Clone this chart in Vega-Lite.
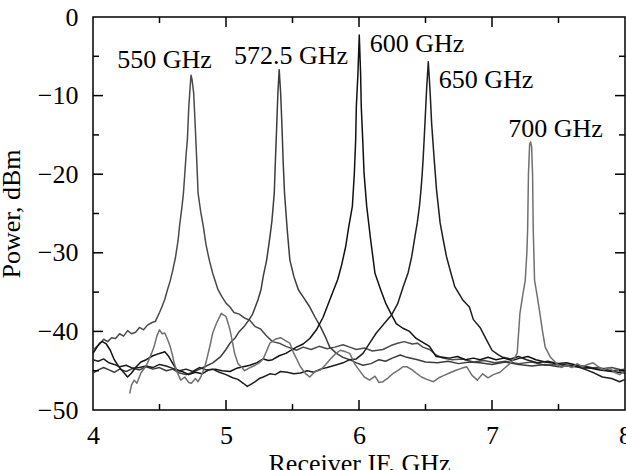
{
  "$schema": "https://vega.github.io/schema/vega-lite/v6.json",
  "width": 532,
  "height": 393,
  "autosize": {"type": "none"},
  "padding": {"left": 93, "top": 17, "right": 1, "bottom": 60},
  "background": "white",
  "config": {
    "font": "Liberation Serif",
    "view": {"stroke": "black", "strokeWidth": 1.5}
  },
  "datasets": {
    "spectra": [
      {"s":"550","x":4.00,"y":-42.4},{"s":"550","x":4.03,"y":-41.9},{"s":"550","x":4.05,"y":-41.6},{"s":"550","x":4.08,"y":-41.0},{"s":"550","x":4.11,"y":-41.3},{"s":"550","x":4.14,"y":-40.8},{"s":"550","x":4.17,"y":-40.9},{"s":"550","x":4.20,"y":-40.3},{"s":"550","x":4.23,"y":-40.6},{"s":"550","x":4.26,"y":-39.9},{"s":"550","x":4.29,"y":-40.3},{"s":"550","x":4.32,"y":-40.1},{"s":"550","x":4.35,"y":-39.5},{"s":"550","x":4.38,"y":-39.8},{"s":"550","x":4.41,"y":-39.2},{"s":"550","x":4.44,"y":-38.9},{"s":"550","x":4.47,"y":-38.7},{"s":"550","x":4.50,"y":-37.6},{"s":"550","x":4.52,"y":-36.8},{"s":"550","x":4.54,"y":-35.9},{"s":"550","x":4.56,"y":-34.7},{"s":"550","x":4.58,"y":-33.6},{"s":"550","x":4.60,"y":-32.2},{"s":"550","x":4.62,"y":-30.6},{"s":"550","x":4.64,"y":-28.4},{"s":"550","x":4.65,"y":-26.7},{"s":"550","x":4.67,"y":-24.0},{"s":"550","x":4.68,"y":-22.4},{"s":"550","x":4.69,"y":-20.0},{"s":"550","x":4.70,"y":-17.5},{"s":"550","x":4.71,"y":-15.5},{"s":"550","x":4.72,"y":-11.5},{"s":"550","x":4.73,"y":-9.0},{"s":"550","x":4.737,"y":-7.4},{"s":"550","x":4.745,"y":-8.0},{"s":"550","x":4.757,"y":-9.7},{"s":"550","x":4.769,"y":-14.0},{"s":"550","x":4.78,"y":-18.2},{"s":"550","x":4.79,"y":-22.4},{"s":"550","x":4.81,"y":-24.8},{"s":"550","x":4.83,"y":-26.7},{"s":"550","x":4.85,"y":-29.0},{"s":"550","x":4.874,"y":-30.9},{"s":"550","x":4.90,"y":-32.6},{"s":"550","x":4.94,"y":-34.7},{"s":"550","x":4.97,"y":-35.6},{"s":"550","x":5.00,"y":-36.4},{"s":"550","x":5.03,"y":-36.9},{"s":"550","x":5.06,"y":-37.6},{"s":"550","x":5.10,"y":-37.8},{"s":"550","x":5.14,"y":-38.3},{"s":"550","x":5.18,"y":-38.6},{"s":"550","x":5.22,"y":-39.4},{"s":"550","x":5.26,"y":-39.7},{"s":"550","x":5.30,"y":-40.5},{"s":"550","x":5.35,"y":-41.3},{"s":"550","x":5.40,"y":-41.5},{"s":"550","x":5.45,"y":-41.9},{"s":"550","x":5.53,"y":-42.4},{"s":"550","x":5.58,"y":-42.0},{"s":"550","x":5.64,"y":-42.3},{"s":"550","x":5.70,"y":-41.9},{"s":"550","x":5.76,"y":-42.2},{"s":"550","x":5.82,"y":-42.0},{"s":"550","x":5.88,"y":-41.7},{"s":"550","x":5.93,"y":-42.0},{"s":"550","x":5.98,"y":-42.3},{"s":"550","x":6.04,"y":-42.1},{"s":"550","x":6.10,"y":-42.5},{"s":"550","x":6.18,"y":-42.3},{"s":"550","x":6.24,"y":-41.8},{"s":"550","x":6.29,"y":-41.5},{"s":"550","x":6.34,"y":-41.3},{"s":"550","x":6.40,"y":-41.6},{"s":"550","x":6.44,"y":-41.5},{"s":"550","x":6.48,"y":-42.0},{"s":"550","x":6.53,"y":-42.3},{"s":"550","x":6.58,"y":-43.0},{"s":"550","x":6.63,"y":-43.4},{"s":"550","x":6.70,"y":-43.6},{"s":"550","x":6.78,"y":-43.5},{"s":"550","x":6.86,"y":-43.9},{"s":"550","x":6.94,"y":-43.7},{"s":"550","x":7.02,"y":-44.0},{"s":"550","x":7.10,"y":-43.8},{"s":"550","x":7.20,"y":-44.1},{"s":"550","x":7.30,"y":-43.9},{"s":"550","x":7.40,"y":-44.3},{"s":"550","x":7.50,"y":-44.2},{"s":"550","x":7.60,"y":-44.5},{"s":"550","x":7.70,"y":-44.4},{"s":"550","x":7.80,"y":-44.8},{"s":"550","x":7.90,"y":-44.6},{"s":"550","x":8.00,"y":-45.0},

      {"s":"572.5","x":4.00,"y":-45.3},{"s":"572.5","x":4.04,"y":-44.9},{"s":"572.5","x":4.08,"y":-44.6},{"s":"572.5","x":4.12,"y":-44.9},{"s":"572.5","x":4.16,"y":-45.2},{"s":"572.5","x":4.20,"y":-44.8},{"s":"572.5","x":4.25,"y":-45.1},{"s":"572.5","x":4.30,"y":-44.7},{"s":"572.5","x":4.35,"y":-44.9},{"s":"572.5","x":4.40,"y":-44.5},{"s":"572.5","x":4.45,"y":-44.8},{"s":"572.5","x":4.50,"y":-44.6},{"s":"572.5","x":4.55,"y":-45.0},{"s":"572.5","x":4.60,"y":-44.8},{"s":"572.5","x":4.65,"y":-45.3},{"s":"572.5","x":4.70,"y":-45.5},{"s":"572.5","x":4.75,"y":-45.2},{"s":"572.5","x":4.79,"y":-44.9},{"s":"572.5","x":4.84,"y":-44.5},{"s":"572.5","x":4.90,"y":-44.0},{"s":"572.5","x":4.96,"y":-43.2},{"s":"572.5","x":5.00,"y":-42.3},{"s":"572.5","x":5.03,"y":-41.5},{"s":"572.5","x":5.07,"y":-40.8},{"s":"572.5","x":5.10,"y":-40.0},{"s":"572.5","x":5.14,"y":-39.3},{"s":"572.5","x":5.17,"y":-38.6},{"s":"572.5","x":5.20,"y":-37.8},{"s":"572.5","x":5.24,"y":-36.0},{"s":"572.5","x":5.263,"y":-34.7},{"s":"572.5","x":5.28,"y":-33.0},{"s":"572.5","x":5.306,"y":-30.9},{"s":"572.5","x":5.33,"y":-28.0},{"s":"572.5","x":5.345,"y":-26.0},{"s":"572.5","x":5.363,"y":-22.4},{"s":"572.5","x":5.372,"y":-18.0},{"s":"572.5","x":5.381,"y":-14.0},{"s":"572.5","x":5.39,"y":-9.7},{"s":"572.5","x":5.40,"y":-6.7},{"s":"572.5","x":5.411,"y":-9.7},{"s":"572.5","x":5.421,"y":-14.0},{"s":"572.5","x":5.43,"y":-18.5},{"s":"572.5","x":5.44,"y":-22.4},{"s":"572.5","x":5.46,"y":-27.0},{"s":"572.5","x":5.48,"y":-30.9},{"s":"572.5","x":5.51,"y":-33.0},{"s":"572.5","x":5.544,"y":-34.7},{"s":"572.5","x":5.58,"y":-35.6},{"s":"572.5","x":5.63,"y":-36.9},{"s":"572.5","x":5.67,"y":-38.2},{"s":"572.5","x":5.71,"y":-39.4},{"s":"572.5","x":5.75,"y":-40.8},{"s":"572.5","x":5.78,"y":-42.0},{"s":"572.5","x":5.83,"y":-42.8},{"s":"572.5","x":5.88,"y":-43.3},{"s":"572.5","x":5.93,"y":-43.6},{"s":"572.5","x":5.98,"y":-44.0},{"s":"572.5","x":6.03,"y":-44.3},{"s":"572.5","x":6.09,"y":-44.1},{"s":"572.5","x":6.15,"y":-43.6},{"s":"572.5","x":6.20,"y":-43.8},{"s":"572.5","x":6.25,"y":-43.4},{"s":"572.5","x":6.31,"y":-43.0},{"s":"572.5","x":6.36,"y":-43.3},{"s":"572.5","x":6.44,"y":-43.6},{"s":"572.5","x":6.50,"y":-43.9},{"s":"572.5","x":6.59,"y":-44.0},{"s":"572.5","x":6.67,"y":-43.8},{"s":"572.5","x":6.75,"y":-44.1},{"s":"572.5","x":6.83,"y":-43.9},{"s":"572.5","x":6.91,"y":-44.0},{"s":"572.5","x":7.00,"y":-44.2},{"s":"572.5","x":7.10,"y":-43.9},{"s":"572.5","x":7.20,"y":-44.2},{"s":"572.5","x":7.30,"y":-44.4},{"s":"572.5","x":7.40,"y":-44.2},{"s":"572.5","x":7.50,"y":-44.5},{"s":"572.5","x":7.60,"y":-44.3},{"s":"572.5","x":7.70,"y":-44.7},{"s":"572.5","x":7.80,"y":-44.6},{"s":"572.5","x":7.90,"y":-45.0},{"s":"572.5","x":8.00,"y":-44.8},

      {"s":"600","x":4.00,"y":-42.8},{"s":"600","x":4.03,"y":-42.0},{"s":"600","x":4.05,"y":-41.5},{"s":"600","x":4.07,"y":-41.3},{"s":"600","x":4.10,"y":-41.6},{"s":"600","x":4.13,"y":-42.4},{"s":"600","x":4.16,"y":-43.6},{"s":"600","x":4.19,"y":-44.4},{"s":"600","x":4.22,"y":-45.0},{"s":"600","x":4.26,"y":-45.8},{"s":"600","x":4.29,"y":-45.3},{"s":"600","x":4.32,"y":-44.6},{"s":"600","x":4.36,"y":-43.9},{"s":"600","x":4.40,"y":-43.6},{"s":"600","x":4.45,"y":-43.1},{"s":"600","x":4.50,"y":-42.8},{"s":"600","x":4.54,"y":-42.6},{"s":"600","x":4.57,"y":-43.2},{"s":"600","x":4.60,"y":-44.1},{"s":"600","x":4.63,"y":-44.9},{"s":"600","x":4.67,"y":-45.1},{"s":"600","x":4.72,"y":-45.5},{"s":"600","x":4.77,"y":-45.2},{"s":"600","x":4.82,"y":-45.4},{"s":"600","x":4.87,"y":-44.9},{"s":"600","x":4.92,"y":-44.8},{"s":"600","x":4.97,"y":-45.0},{"s":"600","x":5.03,"y":-45.1},{"s":"600","x":5.08,"y":-44.7},{"s":"600","x":5.13,"y":-44.5},{"s":"600","x":5.18,"y":-44.3},{"s":"600","x":5.23,"y":-44.0},{"s":"600","x":5.28,"y":-43.5},{"s":"600","x":5.32,"y":-43.7},{"s":"600","x":5.35,"y":-43.6},{"s":"600","x":5.40,"y":-43.1},{"s":"600","x":5.45,"y":-42.8},{"s":"600","x":5.50,"y":-42.3},{"s":"600","x":5.53,"y":-42.0},{"s":"600","x":5.58,"y":-41.6},{"s":"600","x":5.63,"y":-40.9},{"s":"600","x":5.68,"y":-39.8},{"s":"600","x":5.73,"y":-38.2},{"s":"600","x":5.78,"y":-36.0},{"s":"600","x":5.81,"y":-34.7},{"s":"600","x":5.84,"y":-33.4},{"s":"600","x":5.87,"y":-31.5},{"s":"600","x":5.90,"y":-29.2},{"s":"600","x":5.92,"y":-27.0},{"s":"600","x":5.95,"y":-24.1},{"s":"600","x":5.965,"y":-19.9},{"s":"600","x":5.975,"y":-15.6},{"s":"600","x":5.98,"y":-11.4},{"s":"600","x":5.992,"y":-7.2},{"s":"600","x":6.002,"y":-2.3},{"s":"600","x":6.012,"y":-7.2},{"s":"600","x":6.017,"y":-11.4},{"s":"600","x":6.028,"y":-15.6},{"s":"600","x":6.038,"y":-19.9},{"s":"600","x":6.058,"y":-24.1},{"s":"600","x":6.088,"y":-28.4},{"s":"600","x":6.12,"y":-32.6},{"s":"600","x":6.163,"y":-34.7},{"s":"600","x":6.20,"y":-36.4},{"s":"600","x":6.245,"y":-37.9},{"s":"600","x":6.28,"y":-39.0},{"s":"600","x":6.33,"y":-39.6},{"s":"600","x":6.38,"y":-40.0},{"s":"600","x":6.43,"y":-40.9},{"s":"600","x":6.48,"y":-41.4},{"s":"600","x":6.53,"y":-41.9},{"s":"600","x":6.58,"y":-43.2},{"s":"600","x":6.63,"y":-43.3},{"s":"600","x":6.68,"y":-43.4},{"s":"600","x":6.74,"y":-43.2},{"s":"600","x":6.80,"y":-43.6},{"s":"600","x":6.86,"y":-43.4},{"s":"600","x":6.91,"y":-43.6},{"s":"600","x":6.97,"y":-43.3},{"s":"600","x":7.03,"y":-43.6},{"s":"600","x":7.09,"y":-43.4},{"s":"600","x":7.15,"y":-43.7},{"s":"600","x":7.21,"y":-43.4},{"s":"600","x":7.27,"y":-43.2},{"s":"600","x":7.33,"y":-43.6},{"s":"600","x":7.40,"y":-43.9},{"s":"600","x":7.48,"y":-44.1},{"s":"600","x":7.56,"y":-44.0},{"s":"600","x":7.64,"y":-44.3},{"s":"600","x":7.72,"y":-44.6},{"s":"600","x":7.81,"y":-44.9},{"s":"600","x":7.90,"y":-45.1},{"s":"600","x":8.00,"y":-45.3},

      {"s":"650","x":4.00,"y":-43.6},{"s":"650","x":4.04,"y":-43.8},{"s":"650","x":4.08,"y":-43.5},{"s":"650","x":4.12,"y":-44.0},{"s":"650","x":4.16,"y":-44.2},{"s":"650","x":4.20,"y":-44.5},{"s":"650","x":4.25,"y":-44.3},{"s":"650","x":4.30,"y":-44.7},{"s":"650","x":4.35,"y":-44.6},{"s":"650","x":4.40,"y":-44.4},{"s":"650","x":4.45,"y":-44.6},{"s":"650","x":4.50,"y":-44.2},{"s":"650","x":4.55,"y":-44.4},{"s":"650","x":4.60,"y":-44.7},{"s":"650","x":4.65,"y":-45.0},{"s":"650","x":4.70,"y":-44.8},{"s":"650","x":4.75,"y":-45.1},{"s":"650","x":4.80,"y":-44.6},{"s":"650","x":4.85,"y":-44.9},{"s":"650","x":4.90,"y":-44.8},{"s":"650","x":4.95,"y":-45.2},{"s":"650","x":5.00,"y":-45.5},{"s":"650","x":5.05,"y":-45.9},{"s":"650","x":5.09,"y":-46.1},{"s":"650","x":5.13,"y":-46.6},{"s":"650","x":5.16,"y":-47.0},{"s":"650","x":5.19,"y":-46.7},{"s":"650","x":5.22,"y":-46.4},{"s":"650","x":5.25,"y":-46.0},{"s":"650","x":5.28,"y":-45.8},{"s":"650","x":5.33,"y":-45.4},{"s":"650","x":5.37,"y":-45.5},{"s":"650","x":5.41,"y":-45.1},{"s":"650","x":5.46,"y":-45.2},{"s":"650","x":5.51,"y":-45.4},{"s":"650","x":5.56,"y":-45.3},{"s":"650","x":5.61,"y":-45.0},{"s":"650","x":5.66,"y":-45.2},{"s":"650","x":5.71,"y":-44.8},{"s":"650","x":5.76,"y":-44.6},{"s":"650","x":5.82,"y":-44.3},{"s":"650","x":5.88,"y":-44.0},{"s":"650","x":5.93,"y":-43.6},{"s":"650","x":5.98,"y":-43.5},{"s":"650","x":6.03,"y":-42.8},{"s":"650","x":6.08,"y":-41.5},{"s":"650","x":6.13,"y":-40.2},{"s":"650","x":6.19,"y":-39.0},{"s":"650","x":6.245,"y":-37.9},{"s":"650","x":6.29,"y":-36.5},{"s":"650","x":6.333,"y":-34.3},{"s":"650","x":6.37,"y":-32.5},{"s":"650","x":6.396,"y":-30.5},{"s":"650","x":6.42,"y":-28.0},{"s":"650","x":6.438,"y":-26.2},{"s":"650","x":6.455,"y":-24.0},{"s":"650","x":6.466,"y":-22.0},{"s":"650","x":6.475,"y":-20.0},{"s":"650","x":6.483,"y":-17.8},{"s":"650","x":6.496,"y":-13.5},{"s":"650","x":6.508,"y":-9.3},{"s":"650","x":6.521,"y":-5.7},{"s":"650","x":6.534,"y":-9.3},{"s":"650","x":6.546,"y":-13.5},{"s":"650","x":6.564,"y":-17.8},{"s":"650","x":6.583,"y":-22.0},{"s":"650","x":6.61,"y":-26.2},{"s":"650","x":6.635,"y":-28.5},{"s":"650","x":6.658,"y":-30.5},{"s":"650","x":6.69,"y":-32.5},{"s":"650","x":6.72,"y":-34.3},{"s":"650","x":6.78,"y":-36.0},{"s":"650","x":6.83,"y":-36.9},{"s":"650","x":6.86,"y":-38.5},{"s":"650","x":6.91,"y":-39.5},{"s":"650","x":6.96,"y":-41.1},{"s":"650","x":7.00,"y":-42.4},{"s":"650","x":7.04,"y":-42.9},{"s":"650","x":7.08,"y":-43.3},{"s":"650","x":7.14,"y":-43.5},{"s":"650","x":7.20,"y":-43.2},{"s":"650","x":7.26,"y":-43.6},{"s":"650","x":7.34,"y":-44.0},{"s":"650","x":7.42,"y":-43.8},{"s":"650","x":7.50,"y":-44.1},{"s":"650","x":7.58,"y":-44.3},{"s":"650","x":7.66,"y":-44.6},{"s":"650","x":7.71,"y":-44.9},{"s":"650","x":7.77,"y":-45.3},{"s":"650","x":7.83,"y":-45.8},{"s":"650","x":7.90,"y":-46.0},{"s":"650","x":7.96,"y":-46.4},{"s":"650","x":8.00,"y":-46.1},

      {"s":"700","x":4.276,"y":-47.9},{"s":"700","x":4.29,"y":-46.8},{"s":"700","x":4.31,"y":-46.2},{"s":"700","x":4.33,"y":-46.6},{"s":"700","x":4.36,"y":-45.3},{"s":"700","x":4.39,"y":-44.6},{"s":"700","x":4.41,"y":-44.0},{"s":"700","x":4.44,"y":-42.8},{"s":"700","x":4.46,"y":-41.9},{"s":"700","x":4.48,"y":-40.6},{"s":"700","x":4.50,"y":-39.8},{"s":"700","x":4.52,"y":-40.3},{"s":"700","x":4.54,"y":-40.2},{"s":"700","x":4.56,"y":-41.0},{"s":"700","x":4.58,"y":-41.9},{"s":"700","x":4.60,"y":-43.2},{"s":"700","x":4.61,"y":-44.0},{"s":"700","x":4.63,"y":-45.1},{"s":"700","x":4.66,"y":-46.2},{"s":"700","x":4.69,"y":-45.8},{"s":"700","x":4.72,"y":-46.5},{"s":"700","x":4.74,"y":-46.6},{"s":"700","x":4.77,"y":-46.0},{"s":"700","x":4.79,"y":-46.4},{"s":"700","x":4.81,"y":-45.8},{"s":"700","x":4.84,"y":-44.6},{"s":"700","x":4.86,"y":-43.2},{"s":"700","x":4.88,"y":-41.8},{"s":"700","x":4.90,"y":-40.2},{"s":"700","x":4.93,"y":-38.9},{"s":"700","x":4.965,"y":-37.7},{"s":"700","x":4.98,"y":-37.9},{"s":"700","x":5.00,"y":-38.1},{"s":"700","x":5.02,"y":-39.2},{"s":"700","x":5.03,"y":-39.8},{"s":"700","x":5.05,"y":-41.5},{"s":"700","x":5.065,"y":-42.8},{"s":"700","x":5.09,"y":-44.1},{"s":"700","x":5.12,"y":-44.6},{"s":"700","x":5.14,"y":-45.0},{"s":"700","x":5.17,"y":-44.7},{"s":"700","x":5.22,"y":-44.3},{"s":"700","x":5.25,"y":-44.0},{"s":"700","x":5.28,"y":-43.5},{"s":"700","x":5.31,"y":-42.3},{"s":"700","x":5.33,"y":-41.5},{"s":"700","x":5.37,"y":-41.0},{"s":"700","x":5.41,"y":-40.8},{"s":"700","x":5.45,"y":-41.2},{"s":"700","x":5.48,"y":-41.5},{"s":"700","x":5.51,"y":-42.8},{"s":"700","x":5.56,"y":-44.5},{"s":"700","x":5.60,"y":-45.4},{"s":"700","x":5.63,"y":-45.8},{"s":"700","x":5.67,"y":-45.1},{"s":"700","x":5.71,"y":-44.9},{"s":"700","x":5.75,"y":-44.2},{"s":"700","x":5.78,"y":-43.6},{"s":"700","x":5.82,"y":-42.9},{"s":"700","x":5.86,"y":-42.4},{"s":"700","x":5.90,"y":-42.6},{"s":"700","x":5.93,"y":-42.8},{"s":"700","x":5.97,"y":-44.2},{"s":"700","x":6.00,"y":-44.9},{"s":"700","x":6.04,"y":-45.8},{"s":"700","x":6.08,"y":-46.2},{"s":"700","x":6.12,"y":-45.7},{"s":"700","x":6.15,"y":-46.5},{"s":"700","x":6.18,"y":-46.4},{"s":"700","x":6.22,"y":-45.9},{"s":"700","x":6.26,"y":-45.3},{"s":"700","x":6.30,"y":-44.9},{"s":"700","x":6.33,"y":-44.5},{"s":"700","x":6.36,"y":-44.5},{"s":"700","x":6.40,"y":-44.9},{"s":"700","x":6.43,"y":-45.3},{"s":"700","x":6.47,"y":-45.8},{"s":"700","x":6.51,"y":-46.1},{"s":"700","x":6.56,"y":-46.4},{"s":"700","x":6.60,"y":-45.9},{"s":"700","x":6.64,"y":-45.6},{"s":"700","x":6.68,"y":-45.3},{"s":"700","x":6.72,"y":-45.0},{"s":"700","x":6.77,"y":-44.7},{"s":"700","x":6.81,"y":-44.5},{"s":"700","x":6.85,"y":-45.6},{"s":"700","x":6.89,"y":-46.2},{"s":"700","x":6.93,"y":-45.4},{"s":"700","x":6.97,"y":-45.9},{"s":"700","x":7.01,"y":-45.5},{"s":"700","x":7.06,"y":-45.2},{"s":"700","x":7.10,"y":-44.6},{"s":"700","x":7.14,"y":-44.0},{"s":"700","x":7.17,"y":-43.4},{"s":"700","x":7.19,"y":-42.7},{"s":"700","x":7.21,"y":-37.7},{"s":"700","x":7.23,"y":-35.5},{"s":"700","x":7.25,"y":-33.5},{"s":"700","x":7.262,"y":-30.0},{"s":"700","x":7.268,"y":-27.0},{"s":"700","x":7.274,"y":-20.0},{"s":"700","x":7.283,"y":-16.2},{"s":"700","x":7.29,"y":-15.9},{"s":"700","x":7.298,"y":-16.5},{"s":"700","x":7.305,"y":-20.0},{"s":"700","x":7.31,"y":-27.0},{"s":"700","x":7.32,"y":-33.5},{"s":"700","x":7.34,"y":-35.5},{"s":"700","x":7.36,"y":-37.7},{"s":"700","x":7.38,"y":-40.0},{"s":"700","x":7.40,"y":-42.0},{"s":"700","x":7.44,"y":-43.3},{"s":"700","x":7.48,"y":-44.0},{"s":"700","x":7.52,"y":-44.6},{"s":"700","x":7.56,"y":-44.3},{"s":"700","x":7.60,"y":-44.6},{"s":"700","x":7.64,"y":-44.1},{"s":"700","x":7.68,"y":-44.5},{"s":"700","x":7.72,"y":-44.2},{"s":"700","x":7.76,"y":-44.0},{"s":"700","x":7.80,"y":-44.5},{"s":"700","x":7.84,"y":-44.9},{"s":"700","x":7.88,"y":-44.6},{"s":"700","x":7.92,"y":-45.2},{"s":"700","x":7.96,"y":-45.5},{"s":"700","x":8.00,"y":-45.0}
    ],
    "labels": [
      {"label": "550 GHz", "x": 4.538, "y": -6.49},
      {"label": "572.5 GHz", "x": 5.489, "y": -5.98},
      {"label": "600 GHz", "x": 6.436, "y": -4.45},
      {"label": "650 GHz", "x": 6.955, "y": -9.03},
      {"label": "700 GHz", "x": 7.477, "y": -15.27}
    ],
    "xticks": [
      {"v": 4.5, "k": "minor"}, {"v": 5, "k": "major"}, {"v": 5.5, "k": "minor"}, {"v": 6, "k": "major"},
      {"v": 6.5, "k": "minor"}, {"v": 7, "k": "major"}, {"v": 7.5, "k": "minor"}
    ],
    "yticks": [
      {"v": -45, "k": "minor"}, {"v": -40, "k": "major"}, {"v": -35, "k": "minor"}, {"v": -30, "k": "major"},
      {"v": -25, "k": "minor"}, {"v": -20, "k": "major"}, {"v": -15, "k": "minor"}, {"v": -10, "k": "major"},
      {"v": -5, "k": "minor"}
    ]
  },
  "layer": [
    {
      "data": {"name": "spectra"},
      "mark": {"type": "line", "strokeWidth": 1.5, "strokeJoin": "round"},
      "encoding": {
        "x": {
          "field": "x", "type": "quantitative",
          "scale": {"domain": [4, 8], "nice": false, "zero": false},
          "axis": {
            "orient": "bottom",
            "title": "Receiver IF, GHz",
            "values": [4, 5, 6, 7, 8],
            "format": "d",
            "grid": false, "domain": false, "ticks": false,
            "labelPadding": 12, "labelFlush": false, "labelOverlap": false,
            "labelFont": "Liberation Serif", "labelFontSize": 26, "labelColor": "black",
            "titleFont": "Liberation Serif", "titleFontSize": 26, "titleFontWeight": "normal", "titleColor": "black",
            "titlePadding": 2
          }
        },
        "y": {
          "field": "y", "type": "quantitative",
          "scale": {"domain": [-50, 0], "nice": false, "zero": false},
          "axis": {
            "orient": "left",
            "title": "Power, dBm",
            "values": [-50, -40, -30, -20, -10, 0],
            "grid": false, "domain": false, "ticks": false,
            "labelPadding": 15, "labelFlush": false, "labelOverlap": false,
            "labelFont": "Liberation Serif", "labelFontSize": 26, "labelColor": "black",
            "titleFont": "Liberation Serif", "titleFontSize": 26, "titleFontWeight": "normal", "titleColor": "black",
            "titlePadding": 13
          }
        },
        "color": {
          "field": "s", "type": "nominal",
          "scale": {"domain": ["550", "572.5", "600", "650", "700"], "range": ["#4a4a4a", "#3c3c3c", "#111111", "#1e1e1e", "#707070"]},
          "legend": null
        }
      }
    },
    {
      "data": {"name": "xticks"},
      "mark": {"type": "tick", "orient": "vertical", "clip": true, "thickness": 1.5, "color": "black", "opacity": 1},
      "encoding": {
        "x": {"field": "v", "type": "quantitative"},
        "y": {"datum": -50, "type": "quantitative"},
        "size": {"field": "k", "type": "ordinal", "scale": {"domain": ["major", "minor"], "range": [20, 12]}, "legend": null}
      }
    },
    {
      "data": {"name": "xticks"},
      "mark": {"type": "tick", "orient": "vertical", "clip": true, "thickness": 1.5, "color": "black", "opacity": 1},
      "encoding": {
        "x": {"field": "v", "type": "quantitative"},
        "y": {"datum": 0, "type": "quantitative"},
        "size": {"field": "k", "type": "ordinal", "scale": {"domain": ["major", "minor"], "range": [20, 12]}, "legend": null}
      }
    },
    {
      "data": {"name": "yticks"},
      "mark": {"type": "tick", "orient": "horizontal", "clip": true, "thickness": 1.5, "color": "black", "opacity": 1},
      "encoding": {
        "y": {"field": "v", "type": "quantitative"},
        "x": {"datum": 4, "type": "quantitative"},
        "size": {"field": "k", "type": "ordinal", "scale": {"domain": ["major", "minor"], "range": [20, 12]}, "legend": null}
      }
    },
    {
      "data": {"name": "yticks"},
      "mark": {"type": "tick", "orient": "horizontal", "clip": true, "thickness": 1.5, "color": "black", "opacity": 1},
      "encoding": {
        "y": {"field": "v", "type": "quantitative"},
        "x": {"datum": 8, "type": "quantitative"},
        "size": {"field": "k", "type": "ordinal", "scale": {"domain": ["major", "minor"], "range": [20, 12]}, "legend": null}
      }
    },
    {
      "data": {"name": "labels"},
      "mark": {"type": "text", "fontSize": 26, "baseline": "alphabetic", "align": "center", "color": "black", "font": "Liberation Serif"},
      "encoding": {
        "x": {"field": "x", "type": "quantitative"},
        "y": {"field": "y", "type": "quantitative"},
        "text": {"field": "label"}
      }
    }
  ]
}
